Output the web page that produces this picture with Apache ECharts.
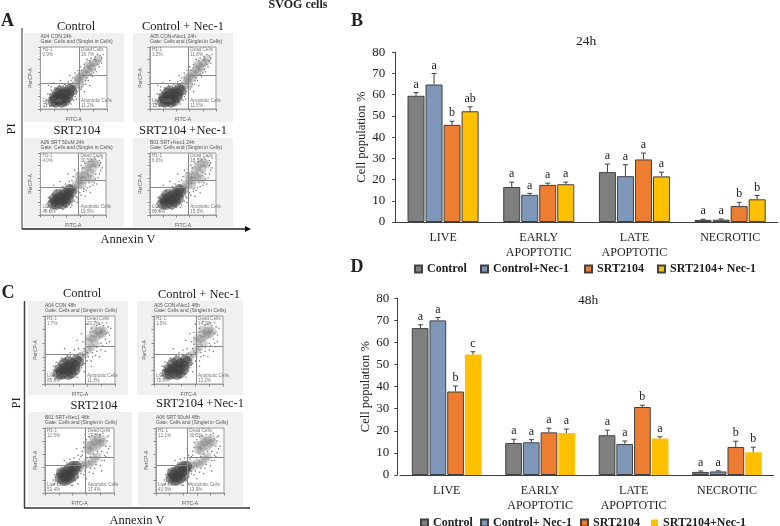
<!DOCTYPE html>
<html><head><meta charset="utf-8">
<style>html,body{margin:0;padding:0;background:#fff}#c{width:780px;height:526px}</style>
<script src="https://cdn.jsdelivr.net/npm/echarts@6/dist/echarts.min.js"></script>
</head><body><div id="c"></div>
<script>
// ---------- bar chart data ----------
const categories = ['LIVE', 'EARLY\nAPOPTOTIC', 'LATE\nAPOPTOTIC', 'NECROTIC'];
const yTicks = [0, 80, 10];
const namesB = ['Control', 'Control+Nec-1', 'SRT2104', 'SRT2104+ Nec-1'];
const namesD = ['Control', 'Control+ Nec-1', 'SRT2104', 'SRT2104+Nec-1'];

const b24Control = [59.5, 16.5, 23.5, 1.0];
const b24ControlNec = [64.8, 12.8, 21.6, 1.1];
const b24Srt = [45.8, 17.5, 29.5, 7.5];
const b24SrtNec = [52.2, 17.8, 21.5, 10.7];
const b24ControlTop = [61.0, 18.8, 27.3, 1.3];
const b24ControlNecTop = [70.0, 13.5, 27.0, 1.4];
const b24SrtTop = [47.5, 18.3, 32.5, 9.3];
const b24SrtNecTop = [54.3, 18.8, 23.5, 12.5];
const b24ControlLetters = ['a', 'a', 'a', 'a'];
const b24ControlNecLetters = ['a', 'a', 'a', 'a'];
const b24SrtLetters = ['b', 'a', 'a', 'b'];
const b24SrtNecLetters = ['ab', 'a', 'a', 'b'];

const d48Control = [66.5, 14.5, 18.0, 1.4];
const d48ControlNec = [70.0, 14.8, 14.0, 1.6];
const d48Srt = [37.8, 19.3, 30.8, 12.7];
const d48SrtNec = [54.6, 19.0, 16.5, 10.3];
const d48ControlTop = [68.0, 16.2, 20.3, 1.8];
const d48ControlNecTop = [71.3, 16.0, 15.4, 1.9];
const d48SrtTop = [40.3, 21.2, 31.6, 15.3];
const d48SrtNecTop = [55.8, 20.8, 17.3, 12.6];
const d48ControlLetters = ['a', 'a', 'a', 'a'];
const d48ControlNecLetters = ['a', 'a', 'a', 'a'];
const d48SrtLetters = ['b', 'a', 'b', 'b'];
const d48SrtNecLetters = ['c', 'a', 'a', 'b'];

// ---------- flow cytometry dots (percent of plot frame) ----------
const core24Con = [[19,12],[23,11],[22,16],[27,14],[27,20],[31,16],[33,24],[36,18],[38,27],[42,24],[44,32],[47,30],[21,19],[32,11],[26,26],[37,13],[30,29],[41,19]];
const cloud24Con = [[50,36],[54,42],[58,46],[60,53],[64,50],[64,58],[68,56],[70,64],[73,60],[75,69],[78,66],[80,74],[84,76],[87,81],[72,72],[60,40],[56,50]];
const halo24Con = [[6,4],[9,14],[11,24],[16,30],[22,34],[30,36],[14,5],[40,12],[48,16],[54,24],[58,30],[62,36],[68,40],[72,46],[78,52],[84,60],[88,68],[92,74],[94,88],[86,88],[76,82],[66,72],[56,62],[48,50],[42,44],[36,40],[30,46],[20,42],[12,38],[44,54],[52,58],[60,68],[70,80],[46,8],[54,16],[66,28],[74,38],[34,6],[90,78],[82,84],
  [10,8],[12,12],[8,10],[13,18],[14,24],[18,27],[24,33],[28,38],[34,37],[38,38],[43,40],[48,42],[26,6],[30,5],[38,7],[44,11],[50,14],[52,20],[55,28],[57,34],[64,40],[70,50],[76,56],[82,64],[86,72],[90,86],[82,80],[74,78],[66,66],[62,62],[58,58],[52,50],[46,46],[40,34],[92,82],[80,58],[68,46],[61,32],[50,24],[16,36]];

const core24Srt = [[19,18],[24,17],[23,22],[28,20],[28,28],[32,24],[34,32],[37,27],[39,36],[42,32],[44,41],[47,38],[21,26],[33,18],[26,33],[38,21],[43,26]];
const cloud24Srt = [[50,44],[54,50],[58,48],[60,56],[62,64],[64,48],[66,56],[68,64],[68,72],[72,60],[72,78],[76,68],[76,82],[80,74],[82,84],[86,82],[58,62],[52,40],[78,58]];
const halo24Srt = [[8,8],[10,18],[12,28],[18,34],[24,40],[32,44],[14,7],[38,16],[46,22],[54,30],[60,36],[66,38],[72,44],[80,48],[84,58],[90,66],[94,76],[94,92],[88,94],[78,90],[68,84],[58,74],[50,62],[44,54],[38,50],[30,54],[20,48],[42,66],[52,72],[62,80],[46,12],[56,20],[68,30],[76,36],[86,50],[34,9],[92,84],[82,92],
  [11,12],[13,15],[12,22],[15,28],[20,31],[25,37],[30,41],[36,43],[41,45],[46,48],[24,10],[30,11],[40,12],[48,16],[52,22],[56,28],[62,32],[70,40],[76,46],[82,52],[88,60],[92,72],[90,88],[84,90],[74,86],[64,76],[56,68],[48,56],[44,48],[50,30],[58,38],[66,42],[74,52],[84,66],[90,80],[34,46]];

const core48Con = [[19,15],[23,14],[23,19],[27,16],[28,23],[32,19],[34,27],[37,22],[39,30],[43,27],[45,35],[48,33],[21,22],[33,14],[27,30],[38,16],[33,33],[43,21]];
const cloud48Con = [[52,40],[57,44],[62,50],[66,54],[64,68],[68,66],[70,74],[72,60],[74,70],[76,78],[78,72],[80,80],[82,74],[84,78],[70,80],[62,62]];
const halo48Con = [[8,8],[10,16],[12,26],[16,32],[24,38],[32,42],[14,7],[40,14],[48,20],[54,28],[60,34],[68,40],[74,48],[82,56],[86,66],[92,72],[94,82],[88,90],[78,88],[66,82],[58,76],[54,62],[48,52],[42,50],[36,46],[28,52],[46,64],[52,74],[60,88],[72,92],[46,10],[56,18],[66,26],[78,40],[86,48],[36,8],[92,62],[58,58],[50,46],[82,90],
  [11,12],[13,13],[12,20],[15,26],[19,31],[24,34],[30,38],[36,41],[42,42],[47,44],[24,9],[30,9],[40,10],[46,14],[52,24],[56,30],[62,40],[68,46],[74,54],[80,60],[88,74],[90,84],[84,86],[74,86],[64,76],[58,68],[56,52],[50,36],[44,30],[66,34],[72,42],[80,50],[60,46],[54,42],[88,60],[90,76]];

const core48Srt = [[22,23],[26,20],[26,28],[30,25],[30,33],[34,28],[35,37],[38,32],[40,41],[43,36],[45,41],[24,31],[36,23],[31,20],[41,27]];
const cloud48Srt = [[52,44],[56,42],[60,46],[64,44],[68,48],[72,52],[62,66],[66,64],[66,74],[70,70],[72,78],[76,72],[76,82],[80,76],[82,84],[84,78],[62,74],[70,82],[50,38],[76,56]];
const halo48Srt = [[10,12],[12,20],[14,28],[18,36],[24,42],[32,46],[18,14],[30,14],[40,18],[48,24],[56,28],[64,32],[72,38],[80,42],[86,50],[90,62],[94,72],[92,88],[84,92],[74,90],[64,86],[56,78],[54,64],[48,58],[42,54],[36,52],[46,68],[52,56],[58,90],[86,58],[48,14],[60,22],[70,30],[82,34],[40,12],[90,80],[28,50],[66,56],
  [14,14],[15,18],[16,24],[17,30],[21,35],[26,38],[31,43],[37,46],[42,47],[47,48],[22,15],[26,14],[34,15],[44,19],[52,30],[58,34],[66,38],[74,44],[82,50],[88,56],[92,68],[90,86],[80,90],[68,88],[60,82],[56,70],[54,58],[50,52],[60,54],[70,60],[82,64],[88,72],[76,64],[52,34],[46,30],[38,12]];

// ---------- flow cytometry labels ----------
const wellLabels = ['A04 CON 24h', 'A05 CON+Nec1 24h', 'A06 SRT 50uM 24h', 'B01 SRT+Nec1 24h', 'A04 CON 48h', 'A05 CON+Nec1 48h', 'B01 SRT+Nec1 48h', 'A06 SRT 50uM 48h'];
const h1Values = ['0.9%', '1.2%', '4.0%', '6.0%', '1.7%', '1.5%', '12.5%', '12.1%'];
const deadValues = ['16.7%', '11.8%', '30.5%', '18.5%', '20.2%', '14.3%', '17.8%', '30.1%'];
const liveValues = ['71.2%', '75.5%', '46.0%', '60.0%', '66.8%', '72.0%', '52.4%', '43.9%'];
const apopValues = ['11.2%', '11.5%', '19.5%', '15.5%', '11.3%', '12.1%', '17.4%', '13.9%'];
const panelTitles = ['Control', 'Control + Nec-1', 'SRT2104', 'SRT2104 +Nec-1', 'Control', 'Control + Nec-1', 'SRT2104', 'SRT2104 +Nec-1'];

const SERIF = '"Liberation Serif","Times New Roman",serif';
const SANS = '"Liberation Sans",Arial,sans-serif';
const INK = '#222';
const EDGE = '#404040';
const palette = ['#7f7f7f', '#7f97b9', '#ed7d31', '#ffc000'];

// ---------- layout ----------
const panels = [
  {box:[24,33,124,122], frame:[40.5,47,107,109], gate:[58,42,55], title:[76,26.5], dots:[core24Con,cloud24Con,halo24Con]},
  {box:[133,33,233,122], frame:[150,47,216,109], gate:[58,42,55], title:[183,26.5], dots:[core24Con,cloud24Con,halo24Con]},
  {box:[24,138,124,227], frame:[40.5,153,106,215], gate:[58,44,56], title:[77,131], dots:[core24Srt,cloud24Srt,halo24Srt]},
  {box:[133,138,233,227], frame:[150,153,216,215], gate:[58,44,56], title:[183,131], dots:[core24Srt,cloud24Srt,halo24Srt]},
  {box:[28,301,128,395], frame:[45,316,115,384], gate:[57,44,56], title:[82,294], dots:[core48Con,cloud48Con,halo48Con]},
  {box:[137,301,243,395], frame:[154,316,223,384], gate:[61,44,56], title:[199,294.5], dots:[core48Con,cloud48Con,halo48Con]},
  {box:[28,412,132,506], frame:[45,428,114,493], gate:[59,42,55], title:[94,406], dots:[core48Srt,cloud48Srt,halo48Srt]},
  {box:[138,412,243,506], frame:[156,428,224,493], gate:[46,42,55], title:[200,404], dots:[core48Srt,cloud48Srt,halo48Srt]}
];

const txt = (text, x, y, font, fill, align, rotation) => ({
  type:'text', x, y, rotation: rotation || 0,
  style:{text, font, fill: fill || INK, textAlign: align || 'center', textVerticalAlign:'middle'}, z:10
});

const graphics = [];
const grids = [], xAxes = [], yAxes = [], series = [];

// panels A + C
panels.forEach((p, i) => {
  const [bx0,by0,bx1,by1] = p.box, [fx0,fy0,fx1,fy1] = p.frame;
  graphics.push({type:'rect', shape:{x:bx0,y:by0,width:bx1-bx0,height:by1-by0}, style:{fill:'#f0f0f0'}, z:-1});
  graphics.push(txt(panelTitles[i], p.title[0], p.title[1], '12.5px '+SERIF));
  graphics.push(txt(wellLabels[i], fx0, fy0-10.5, '5px '+SANS, '#555', 'left'));
  graphics.push(txt('Gate: Cells and (Singlet in Cells)', fx0, fy0-5, '5px '+SANS, '#555', 'left'));
  const gx = fx0 + (fx1-fx0)*p.gate[0]/100;
  graphics.push(txt('H1-1', fx0+2, fy0+3, '4.6px '+SANS, '#777', 'left'));
  graphics.push(txt(h1Values[i], fx0+2, fy0+8, '4.6px '+SANS, '#777', 'left'));
  graphics.push(txt('Dead Cells', gx+2, fy0+3, '4.6px '+SANS, '#777', 'left'));
  graphics.push(txt(deadValues[i], gx+2, fy0+8, '4.6px '+SANS, '#777', 'left'));
  graphics.push(txt('Live Cells', fx0+2, fy1-8, '4.6px '+SANS, '#777', 'left'));
  graphics.push(txt(liveValues[i], fx0+2, fy1-3, '4.6px '+SANS, '#777', 'left'));
  graphics.push(txt('Apoptotic Cells', gx+2, fy1-8, '4.6px '+SANS, '#777', 'left'));
  graphics.push(txt(apopValues[i], gx+2, fy1-3, '4.6px '+SANS, '#777', 'left'));

  grids.push({left:fx0, top:fy0, width:fx1-fx0, height:fy1-fy0, show:true, backgroundColor:'#fff', borderColor:'#999', borderWidth:1, z:0});
  const ax = {type:'value', min:0, max:100, interval:20, gridIndex:i, splitLine:{show:false},
    axisLine:{lineStyle:{color:'#999'}}, axisTick:{length:2.5, lineStyle:{color:'#888'}},
    minorTick:{show:true, splitNumber:4, length:1.2, lineStyle:{color:'#aaa'}}, axisLabel:{show:false},
    nameLocation:'middle', nameTextStyle:{fontFamily:SANS, fontSize:5, color:'#555'}};
  xAxes.push({...ax, name:'FITC-A', nameGap:8});
  yAxes.push({...ax, name:'PerCP-A', nameGap:7});
  const g = p.gate;
  series.push({type:'scatter', xAxisIndex:i, yAxisIndex:i, data:p.dots[1], symbolSize:8, itemStyle:{color:'#777', opacity:.33}, silent:true, animation:false, z:2});
  series.push({type:'scatter', xAxisIndex:i, yAxisIndex:i, data:p.dots[0], symbolSize:11, itemStyle:{color:'#3f3f3f', opacity:.55}, silent:true, animation:false, z:3,
    markLine:{silent:true, symbol:'none', animation:false, label:{show:false}, lineStyle:{color:'#888', width:1, type:'solid'},
      data:[[{coord:[g[0],0]},{coord:[g[0],100]}],[{coord:[0,g[1]]},{coord:[g[0],g[1]]}],[{coord:[g[0],g[2]]},{coord:[100,g[2]]}]]}});
  series.push({type:'scatter', xAxisIndex:i, yAxisIndex:i, data:p.dots[2], symbolSize:1.6, itemStyle:{color:'#666', opacity:.85}, silent:true, animation:false, z:4});
});

// bar panels
const barGrids = [
  {rect:[395.2,52.3,778,222], yOffset:0, name:'24h', title:[586,41], barW:17, pitch:18, names:namesB, borderYellow:true, labelMargin:10, nameGap:25,
   vals:[b24Control,b24ControlNec,b24Srt,b24SrtNec], tops:[b24ControlTop,b24ControlNecTop,b24SrtTop,b24SrtNecTop], lets:[b24ControlLetters,b24ControlNecLetters,b24SrtLetters,b24SrtNecLetters]},
  {rect:[400,298.3,773.7,475], yOffset:2.7, name:'48h', title:[588,300.7], barW:16.7, pitch:17.5, names:namesD, borderYellow:false, labelMargin:8, nameGap:22,
   vals:[d48Control,d48ControlNec,d48Srt,d48SrtNec], tops:[d48ControlTop,d48ControlNecTop,d48SrtTop,d48SrtNecTop], lets:[d48ControlLetters,d48ControlNecLetters,d48SrtLetters,d48SrtNecLetters]}
];
barGrids.forEach((b, k) => {
  const gi = grids.length;
  const [x0,y0,x1,y1] = b.rect;
  grids.push({left:x0, top:y0, width:x1-x0, height:y1-y0});
  xAxes.push({type:'category', gridIndex:gi, data:categories, axisTick:{show:false},
    axisLine:{lineStyle:{color:EDGE}},
    axisLabel:{fontFamily:SERIF, fontSize:12, color:INK, margin:9, lineHeight:14.5, interval:0}});
  yAxes.push({type:'value', gridIndex:gi, min:yTicks[0], max:yTicks[1], interval:yTicks[2], splitLine:{show:false}, offset:b.yOffset,
    axisLine:{show:true, lineStyle:{color:EDGE}}, axisTick:{show:true, length:3, lineStyle:{color:EDGE}},
    axisLabel:{fontFamily:SERIF, fontSize:13, color:INK, margin:b.labelMargin},
    name:'Cell population %', nameLocation:'middle', nameGap:b.nameGap, nameTextStyle:{fontFamily:SERIF, fontSize:12.5, color:INK}});
  graphics.push(txt(b.name, b.title[0], b.title[1], '13.5px '+SERIF));
  b.vals.forEach((v, s) => {
    const noBorder = s === 3 && !b.borderYellow;
    series.push({type:'bar', name:b.names[s], xAxisIndex:gi, yAxisIndex:gi, data:v, barWidth:b.barW, barGap:'6%', animation:false, silent:true,
      itemStyle:{color:palette[s], borderColor:noBorder?palette[s]:EDGE, borderWidth:noBorder?0:1}});
  });
  b.tops.forEach((t, s) => {
    series.push({type:'custom', xAxisIndex:gi, yAxisIndex:gi, silent:true, animation:false, z:5,
      data:t.map((hi, c) => [c, b.vals[s][c], hi]),
      renderItem:(params, api) => {
        const off = (s-1.5)*b.pitch;
        const base = api.coord([api.value(0), api.value(1)]);
        const top = api.coord([api.value(0), api.value(2)]);
        const x = base[0]+off;
        const ls = {stroke:EDGE, lineWidth:1};
        return {type:'group', children:[
          {type:'line', shape:{x1:x,y1:base[1],x2:x,y2:top[1]}, style:ls},
          {type:'line', shape:{x1:x-2.5,y1:top[1],x2:x+2.5,y2:top[1]}, style:ls},
          {type:'text', style:{text:b.lets[s][params.dataIndex], x, y:top[1]-8, font:'12px '+SERIF, fill:INK, textAlign:'center', textVerticalAlign:'middle'}}
        ]};
      }});
  });
});

// legends
const legendLayout = [
  {names:namesB, lefts:[414,480,584,657], top:263},
  {names:namesD, lefts:[420,480,580,651], top:517}
];
const legends = [];
legendLayout.forEach(l => l.names.forEach((n, i) => legends.push({
  data:[n], left:l.lefts[i], top:l.top, padding:0, icon:'rect', itemWidth:7, itemHeight:7, selectedMode:false,
  textStyle:{fontFamily:SERIF, fontWeight:'bold', fontSize:12, color:INK}
})));

// framing marks and headings
const thick = (x1,y1,x2,y2,c,w) => ({type:'line', shape:{x1,y1,x2,y2}, style:{stroke:c,lineWidth:w}, z:8});
graphics.push(
  thick(22,28,22,229,'#777',1.5), thick(22,229,246,229,'#222',1.5),
  {type:'polygon', shape:{points:[[245,226],[251,229],[245,232]]}, style:{fill:'#111'}, z:8},
  thick(24.5,301,24.5,508,'#444',1.5), thick(24,508,250,508,'#333',1.5),
  txt('SVOG cells', 298, 5, 'bold 12px '+SERIF),
  txt('A', 7.5, 21.5, 'bold 18px '+SERIF), txt('B', 357, 21.5, 'bold 18px '+SERIF),
  txt('C', 8, 293, 'bold 18px '+SERIF), txt('D', 357, 267, 'bold 18px '+SERIF),
  txt('PI', 12, 129, '12.5px '+SERIF, INK, 'center', Math.PI/2),
  txt('PI', 17, 403, '12.5px '+SERIF, INK, 'center', Math.PI/2),
  txt('Annexin V', 128, 239.5, '12.5px '+SERIF),
  txt('Annexin V', 137, 521, '12.5px '+SERIF)
);

const chart = echarts.init(document.getElementById('c'), null, {renderer:'canvas'});
chart.setOption({
  animation:false, backgroundColor:'#fff',
  grid:grids, xAxis:xAxes, yAxis:yAxes, series, legend:legends,
  graphic:{elements:graphics}
});
</script></body></html>
